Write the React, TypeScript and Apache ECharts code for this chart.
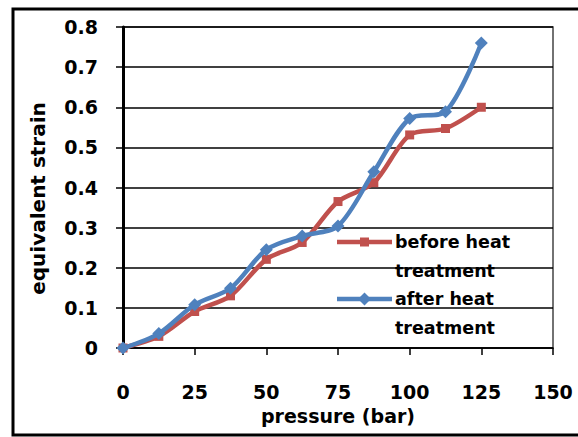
import React, { useEffect, useRef } from "react";
import * as echarts from "echarts";

const pressure = [0, 12.5, 25, 37.5, 50, 62.5, 75, 87.5, 100, 112.5, 125];
const beforeHeat = [0, 0.029, 0.091, 0.13, 0.221, 0.263, 0.365, 0.412, 0.531, 0.547, 0.6];
const afterHeat = [0, 0.036, 0.108, 0.149, 0.245, 0.279, 0.304, 0.439, 0.572, 0.589, 0.76];
const seriesNames = ["before heat\ntreatment", "after heat\ntreatment"];
const xTitle = "pressure (bar)";
const yTitle = "equivalent strain";

const RED = "#C0504D";
const BLUE = "#4F81BD";
const FONT = "'DejaVu Sans', sans-serif";

export default function App() {
  const ref = useRef<HTMLDivElement>(null);
  useEffect(() => {
    if (!ref.current) return;
    const chart = echarts.init(ref.current, undefined, { renderer: "svg" });
    const legendText = (t: string, x: number, y: number) => ({
      type: "text",
      left: x,
      top: y,
      z: 100,
      style: {
        text: t,
        font: `bold 17.5px ${FONT}`,
        fill: "#000",
        lineHeight: 29,
      },
    });
    chart.setOption({
      animation: false,
      backgroundColor: "#fff",
      textStyle: { fontFamily: FONT },
      grid: { left: 123, top: 27, right: 25, bottom: 89, show: true, borderColor: "#444", borderWidth: 1.5, backgroundColor: "transparent" },
      xAxis: {
        type: "value",
        min: 0,
        max: 150,
        interval: 25,
        name: xTitle,
        nameLocation: "middle",
        nameGap: 58,
        nameTextStyle: { fontSize: 19, fontWeight: "bold", color: "#000", fontFamily: FONT },
        axisLine: { show: true, onZero: false, lineStyle: { color: "#000", width: 1.5 } },
        axisTick: { show: true, inside: false, length: 7, lineStyle: { color: "#000", width: 1.5 } },
        axisLabel: { margin: 34, fontSize: 19, fontWeight: "bold", color: "#000", fontFamily: FONT },
        splitLine: { show: false },
      },
      yAxis: {
        type: "value",
        min: 0,
        max: 0.8,
        interval: 0.1,
        name: yTitle,
        nameLocation: "middle",
        nameGap: 75,
        nameTextStyle: { fontSize: 20, fontWeight: "bold", color: "#000", fontFamily: FONT, padding: [0, 22, 0, 0] },
        axisLine: { show: true, onZero: false, lineStyle: { color: "#000", width: 3 } },
        axisTick: { show: true, inside: false, length: 7, lineStyle: { color: "#000", width: 1.5 } },
        axisLabel: { margin: 25, fontSize: 19, fontWeight: "bold", color: "#000", fontFamily: FONT },
        splitLine: { show: true, lineStyle: { color: "#000", width: 1.5 } },
      },
      series: [
        {
          name: seriesNames[0],
          type: "line",
          data: pressure.map((p, i) => [p, beforeHeat[i]]),
          smooth: 0.3,
          symbol: "rect",
          symbolSize: 9,
          lineStyle: { color: RED, width: 4.5 },
          itemStyle: { color: RED },
          z: 3,
        },
        {
          name: seriesNames[1],
          type: "line",
          data: pressure.map((p, i) => [p, afterHeat[i]]),
          smooth: 0.3,
          symbol: "diamond",
          symbolSize: 13,
          lineStyle: { color: BLUE, width: 4.5 },
          itemStyle: { color: BLUE },
          z: 4,
        },
      ],
      graphic: [
        {
          type: "rect",
          shape: { x: 13, y: 9, width: 620, height: 426 },
          style: { fill: "none", stroke: "#000", lineWidth: 3 },
          z: 0,
          silent: true,
        },
        { type: "line", shape: { x1: 337, y1: 242, x2: 392, y2: 242 }, style: { stroke: RED, lineWidth: 4.5 }, z: 100 },
        { type: "rect", shape: { x: 360, y: 237.5, width: 9, height: 9 }, style: { fill: RED }, z: 100 },
        legendText(seriesNames[0], 395, 227),
        { type: "line", shape: { x1: 337, y1: 299, x2: 392, y2: 299 }, style: { stroke: BLUE, lineWidth: 4.5 }, z: 100 },
        { type: "polygon", shape: { points: [[364.5, 292.5], [371, 299], [364.5, 305.5], [358, 299]] }, style: { fill: BLUE }, z: 100 },
        legendText(seriesNames[1], 395, 284),
      ],
    });
    return () => chart.dispose();
  }, []);
  return <div ref={ref} style={{ position: "fixed", left: 0, top: 0, width: 578, height: 437 }} />;
}
